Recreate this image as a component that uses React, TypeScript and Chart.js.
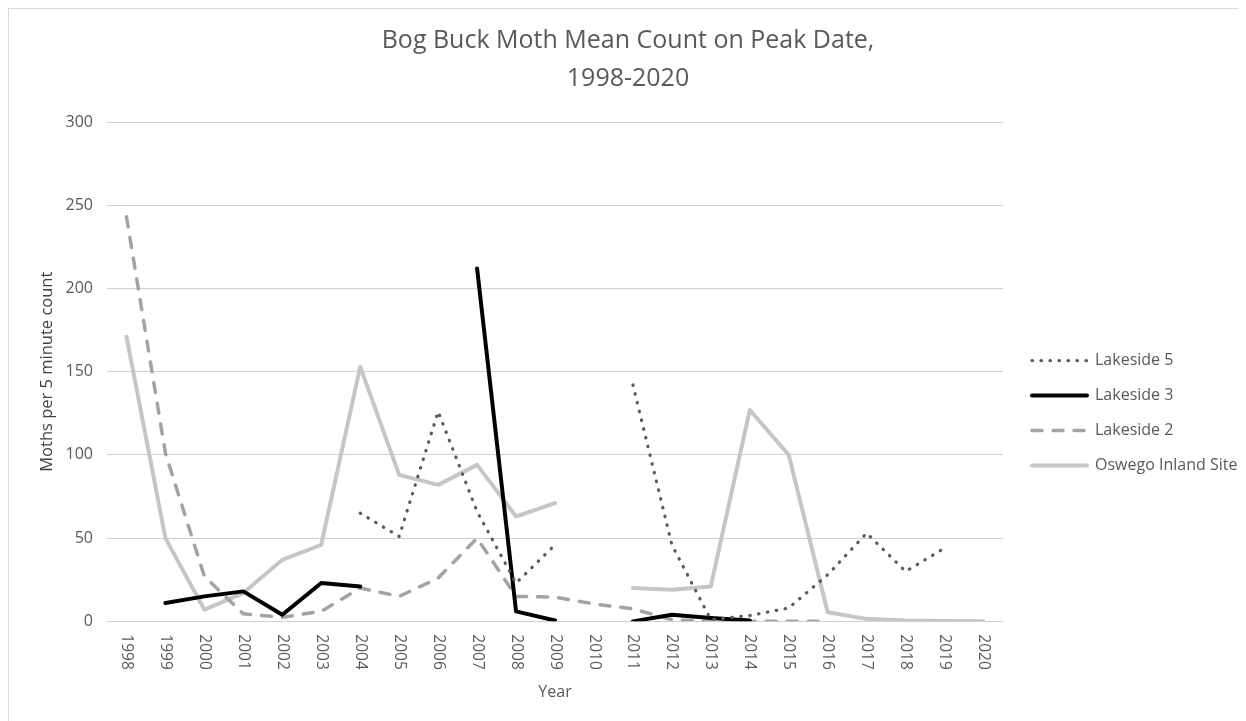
import React, { useEffect, useRef } from 'react';
import { Chart, registerables } from 'chart.js';

Chart.register(...registerables);

const years = ['1998', '1999', '2000', '2001', '2002', '2003', '2004', '2005', '2006', '2007', '2008', '2009', '2010', '2011', '2012', '2013', '2014', '2015', '2016', '2017', '2018', '2019', '2020'];

const lakeside5 = [null, null, null, null, null, null, 65, 51, 126, 66, 23, 46, null, 142, 46, 1, 3.5, 8, 28, 53, 30, 44, null];
const lakeside3 = [null, 11, 15, 18, 4, 23, 21, null, null, 212, 6, 0.5, null, 0, 4, 2, 0.5, null, null, null, null, null, null];
const lakeside2 = [243, 101, 27, 4.5, 2.5, 6, 20, 15, 26, 50, 15, 14.5, 10.5, 7.5, 1, 0, 0, 0, 0, null, null, null, null];
const oswego = [171, 50, 7, 17, 37, 46, 153, 88, 82, 94, 63, 71, null, 20, 19, 21, 127, 100, 5.5, 1.5, 0.5, 0.2, 0];

const yMin = 0;
const yMax = 300;
const yStep = 50;

const titleLines = ['Bog Buck Moth Mean Count on Peak Date,', '1998-2020'];
const xTitle = 'Year';
const yTitle = 'Moths per 5 minute count';

const FONT = '"Open Sans", sans-serif';
const X_LABEL_SIZE = 15.5;
const X_LABEL_GAP = 13;

export default function App() {
  const ref = useRef<HTMLCanvasElement | null>(null);

  useEffect(() => {
    if (!ref.current) return;

    const clockwiseLabels = {
      id: 'clockwiseLabels',
      afterDraw(chart: any) {
        const xs = chart.scales.x;
        const ctx = chart.ctx;
        ctx.save();
        ctx.fillStyle = '#595959';
        ctx.font = `${X_LABEL_SIZE}px ${FONT}`;
        ctx.textAlign = 'left';
        ctx.textBaseline = 'middle';
        years.forEach((lab, i) => {
          const px = xs.getPixelForValue(i);
          ctx.save();
          ctx.translate(px, xs.top + X_LABEL_GAP);
          ctx.rotate(Math.PI / 2);
          ctx.fillText(lab, 0, 0);
          ctx.restore();
        });
        ctx.restore();
      },
    };

    const chart = new Chart(ref.current, {
      type: 'line',
      data: {
        labels: years,
        datasets: [
          {
            label: 'Lakeside 5',
            data: lakeside5,
            borderColor: '#5a5a5a',
            backgroundColor: '#5a5a5a',
            borderWidth: 3.2,
            borderDash: [0.5, 8.5],
            borderCapStyle: 'round',
            borderJoinStyle: 'round',
            pointRadius: 0,
            tension: 0,
          },
          {
            label: 'Lakeside 3',
            data: lakeside3,
            borderColor: '#000000',
            backgroundColor: '#000000',
            borderWidth: 4,
            borderCapStyle: 'round',
            borderJoinStyle: 'round',
            pointRadius: 0,
            tension: 0,
          },
          {
            label: 'Lakeside 2',
            data: lakeside2,
            borderColor: '#a3a3a3',
            backgroundColor: '#a3a3a3',
            borderWidth: 3.5,
            borderDash: [10, 11],
            borderCapStyle: 'round',
            borderJoinStyle: 'round',
            pointRadius: 0,
            tension: 0,
          },
          {
            label: 'Oswego Inland Site',
            data: oswego,
            borderColor: '#c6c6c6',
            backgroundColor: '#c6c6c6',
            borderWidth: 4,
            borderCapStyle: 'round',
            borderJoinStyle: 'round',
            pointRadius: 0,
            tension: 0,
          },
        ] as any,
      },
      options: {
        animation: false,
        responsive: true,
        maintainAspectRatio: false,
        events: [],
        layout: { padding: { left: 9, right: 0, top: 0, bottom: 19 } },
        plugins: {
          title: {
            display: true,
            text: titleLines,
            color: '#595959',
            font: { family: FONT, size: 25, weight: 'normal', lineHeight: 1.52 },
            padding: { top: 13, bottom: 24 },
          },
          legend: {
            position: 'right',
            maxWidth: 225,
            title: {
              display: true,
              text: ' ',
              font: { family: FONT, size: 16, lineHeight: 1.2 },
              padding: { top: 96, bottom: 0 },
            },
            labels: {
              usePointStyle: true,
              pointStyleWidth: 55,
              padding: 19,
              color: '#595959',
              font: { family: FONT, size: 16 },
              generateLabels: (c: any) =>
                c.data.datasets.map((ds: any, i: number) => ({
                  text: ds.label,
                  datasetIndex: i,
                  pointStyle: 'line',
                  strokeStyle: ds.borderColor,
                  fillStyle: ds.borderColor,
                  lineWidth: ds.borderWidth,
                  lineDash: ds.borderDash || [],
                  lineCap: ds.borderCapStyle || 'butt',
                  hidden: false,
                  fontColor: '#595959',
                })),
            },
          },
          tooltip: { enabled: false },
        },
        scales: {
          x: {
            type: 'category',
            offset: true,
            grid: { display: false, drawTicks: false },
            border: { display: false },
            ticks: {
              autoSkip: false,
              minRotation: 90,
              maxRotation: 90,
              padding: X_LABEL_GAP,
              color: 'rgba(0,0,0,0)',
              font: { family: FONT, size: X_LABEL_SIZE },
            },
            title: {
              display: true,
              text: xTitle,
              color: '#595959',
              font: { family: FONT, size: 16 },
              padding: { top: 0, bottom: 0 },
            },
          },
          y: {
            min: yMin,
            max: yMax,
            ticks: { stepSize: yStep, padding: 14, color: '#595959', font: { family: FONT, size: 16 } },
            grid: { color: '#d0d0d0', drawTicks: false },
            border: { display: false },
            title: {
              display: true,
              text: yTitle,
              color: '#404040',
              font: { family: FONT, size: 16.5 },
              padding: { top: 19.4, bottom: 0 },
            },
            afterFit: (s: any) => {
              s.width = 89;
            },
          },
          spacer: {
            type: 'linear',
            position: 'right',
            display: true,
            grid: { display: false, drawTicks: false },
            ticks: { display: false },
            border: { display: false },
            afterFit: (s: any) => {
              s.width = 10;
            },
          },
        } as any,
      },
      plugins: [clockwiseLabels],
    } as any);

    return () => {
      chart.destroy();
    };
  }, []);

  return (
    <div
      style={{
        width: 1230,
        height: 713,
        boxSizing: 'border-box',
        borderTop: '1px solid #d9d9d9',
        borderLeft: '1px solid #d9d9d9',
      }}
    >
      <div style={{ position: 'relative', width: 1229, height: 712 }}>
        <canvas ref={ref} />
      </div>
    </div>
  );
}
